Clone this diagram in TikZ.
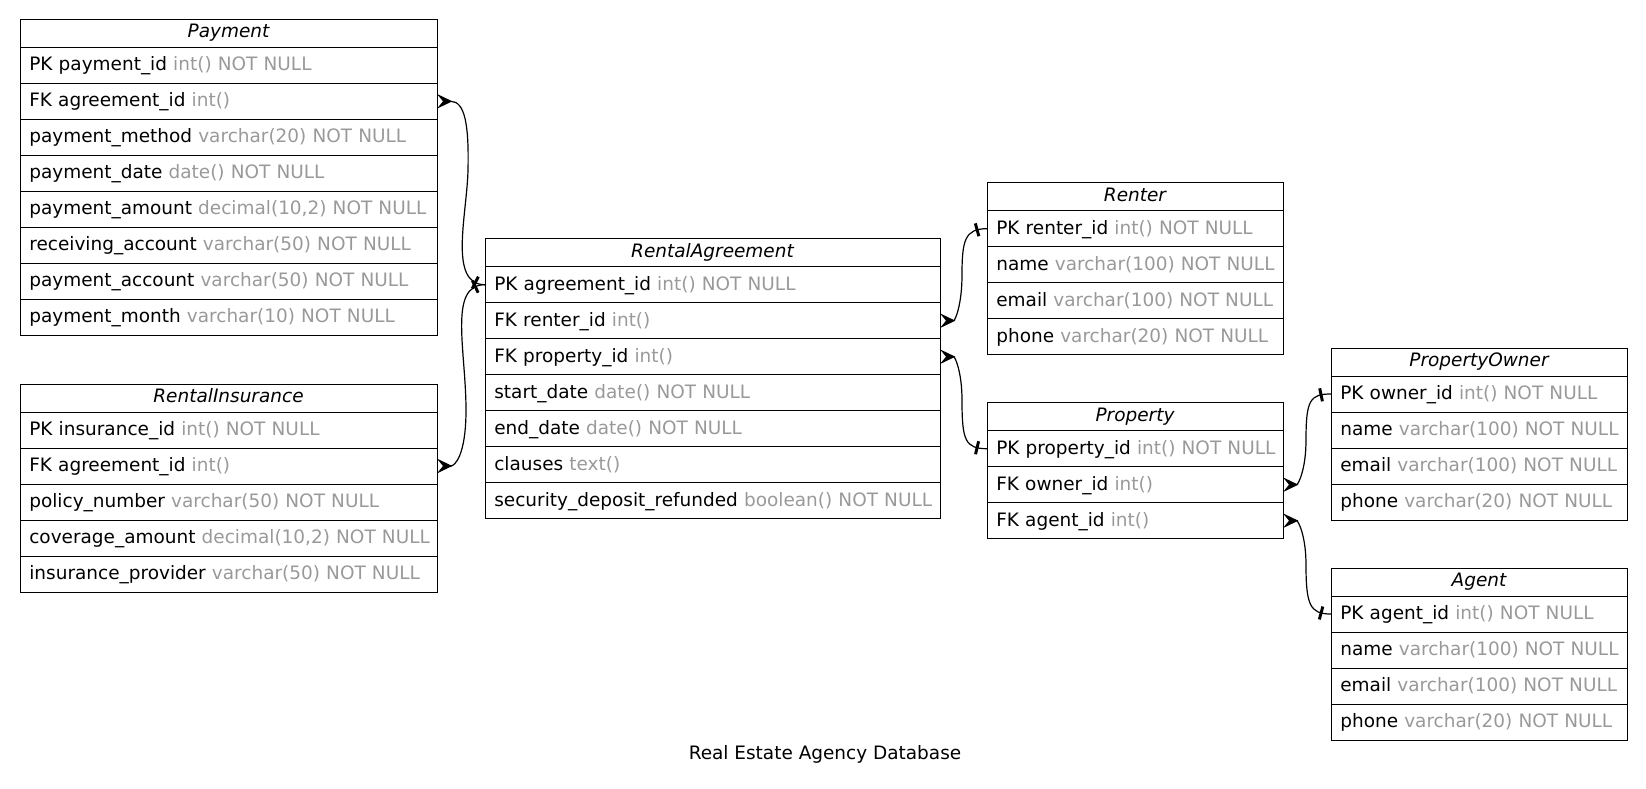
\documentclass[tikz,border=0pt]{standalone}
\usepackage{fontspec}
\setmainfont{DejaVu Sans}
\usetikzlibrary{arrows.meta, positioning, decorations.markings}
\definecolor{coltype}{RGB}{153,153,153}

\begin{document}
\begin{tikzpicture}[x=0.75pt, y=-0.75pt, line width=0.75pt,
      tabhead/.style={draw, outer sep=0pt, inner sep=0pt, anchor=north west,
        minimum height=21pt, text height=9.5pt, text depth=2.5pt,
        font=\fontsize{13.85}{17}\selectfont\itshape},
      tabrow/.style={draw, outer sep=0pt, inner xsep=7pt, inner ysep=0pt,
        minimum height=27pt, text height=10.5pt, text depth=2.5pt, align=left,
        font=\fontsize{13.85}{17}\selectfont},
      crowfoot/.style={arrows={{Stealth[reversed,length=11.5pt,width=11pt,inset=4.5pt]}-}},
      onebar/.style={postaction={decorate}, decoration={markings,
        mark=at position -7.5pt with {\draw[line width=2.2pt,-] (0,-5pt) -- (0,5pt);}}},
      relation/.style={draw, line width=0.9pt, crowfoot, onebar}]
  \useasboundingbox (0,0) rectangle (1646,789);

  % Payment
  \node[tabhead, minimum width=312.75pt] (pay-0) at (20,19.3) {Payment};
  \foreach \fname/\ftype [count=\i] in {PK payment\_id/int() NOT NULL, FK agreement\_id/int(),
      payment\_method/varchar(20) NOT NULL, payment\_date/date() NOT NULL,
      {payment\_amount/decimal(10,2) NOT NULL}, receiving\_account/varchar(50) NOT NULL,
      payment\_account/varchar(50) NOT NULL, payment\_month/varchar(10) NOT NULL} {
    \pgfmathtruncatemacro\prev{\i-1}
    \node[tabrow, text width=298.75pt, below=0pt of pay-\prev] (pay-\i)
      {\mbox{\fname{} \textcolor{coltype}{\ftype}}};
  }

  % RentalInsurance
  \node[tabhead, minimum width=312.75pt] (ins-0) at (20,384) {RentalInsurance};
  \foreach \fname/\ftype [count=\i] in {PK insurance\_id/int() NOT NULL, FK agreement\_id/int(),
      policy\_number/varchar(50) NOT NULL, {coverage\_amount/decimal(10,2) NOT NULL},
      insurance\_provider/varchar(50) NOT NULL} {
    \pgfmathtruncatemacro\prev{\i-1}
    \node[tabrow, text width=298.75pt, below=0pt of ins-\prev] (ins-\i)
      {\mbox{\fname{} \textcolor{coltype}{\ftype}}};
  }

  % RentalAgreement
  \node[tabhead, minimum width=341.25pt] (ra-0) at (485,238.7) {RentalAgreement};
  \foreach \fname/\ftype [count=\i] in {PK agreement\_id/int() NOT NULL, FK renter\_id/int(),
      FK property\_id/int(), start\_date/date() NOT NULL, end\_date/date() NOT NULL,
      clauses/text(), security\_deposit\_refunded/boolean() NOT NULL} {
    \pgfmathtruncatemacro\prev{\i-1}
    \node[tabrow, text width=327.25pt, below=0pt of ra-\prev] (ra-\i)
      {\mbox{\fname{} \textcolor{coltype}{\ftype}}};
  }

  % Renter
  \node[tabhead, minimum width=222pt] (ren-0) at (987,182.7) {Renter};
  \foreach \fname/\ftype [count=\i] in {PK renter\_id/int() NOT NULL, name/varchar(100) NOT NULL,
      email/varchar(100) NOT NULL, phone/varchar(20) NOT NULL} {
    \pgfmathtruncatemacro\prev{\i-1}
    \node[tabrow, text width=208pt, below=0pt of ren-\prev] (ren-\i)
      {\mbox{\fname{} \textcolor{coltype}{\ftype}}};
  }

  % Property
  \node[tabhead, minimum width=222pt] (prop-0) at (987,402.7) {Property};
  \foreach \fname/\ftype [count=\i] in {PK property\_id/int() NOT NULL, FK owner\_id/int(),
      FK agent\_id/int()} {
    \pgfmathtruncatemacro\prev{\i-1}
    \node[tabrow, text width=208pt, below=0pt of prop-\prev] (prop-\i)
      {\mbox{\fname{} \textcolor{coltype}{\ftype}}};
  }

  % PropertyOwner
  \node[tabhead, minimum width=222pt] (own-0) at (1331,348) {PropertyOwner};
  \foreach \fname/\ftype [count=\i] in {PK owner\_id/int() NOT NULL, name/varchar(100) NOT NULL,
      email/varchar(100) NOT NULL, phone/varchar(20) NOT NULL} {
    \pgfmathtruncatemacro\prev{\i-1}
    \node[tabrow, text width=208pt, below=0pt of own-\prev] (own-\i)
      {\mbox{\fname{} \textcolor{coltype}{\ftype}}};
  }

  % Agent
  \node[tabhead, minimum width=222pt] (agt-0) at (1331,568) {Agent};
  \foreach \fname/\ftype [count=\i] in {PK agent\_id/int() NOT NULL, name/varchar(100) NOT NULL,
      email/varchar(100) NOT NULL, phone/varchar(20) NOT NULL} {
    \pgfmathtruncatemacro\prev{\i-1}
    \node[tabrow, text width=208pt, below=0pt of agt-\prev] (agt-\i)
      {\mbox{\fname{} \textcolor{coltype}{\ftype}}};
  }

  % relations
  \path[relation] (pay-2.east) .. controls +(28,0) and +(1,-45) .. (468,170)
    .. controls +(-1,45) and +(-37,0) .. (ra-1.west);
  \path[relation] (ins-2.east) .. controls +(18,0) and +(0,45) .. (466,410)
    .. controls +(0,-60) and +(-37,0) .. (ra-1.west);
  \path[relation] (ra-2.east) .. controls +(15,0) and +(0,30) .. (962,275)
    .. controls +(0,-35) and +(-22,0) .. (ren-1.west);
  \path[relation] (ra-3.east) .. controls +(15,0) and +(0,-28) .. (962,400)
    .. controls +(0,40) and +(-22,0) .. (prop-1.west);
  \path[relation] (prop-2.east) .. controls +(15,0) and +(0,30) .. (1306,440)
    .. controls +(0,-40) and +(-21,0) .. (own-1.west);
  \path[relation] (prop-3.east) .. controls +(15,0) and +(0,-30) .. (1306,565)
    .. controls +(0,40) and +(-21,0) .. (agt-1.west);

  \node[font=\fontsize{13.85}{17}\selectfont, anchor=base] (title) at (825,759) {Real Estate Agency Database};
\end{tikzpicture}
\end{document}
